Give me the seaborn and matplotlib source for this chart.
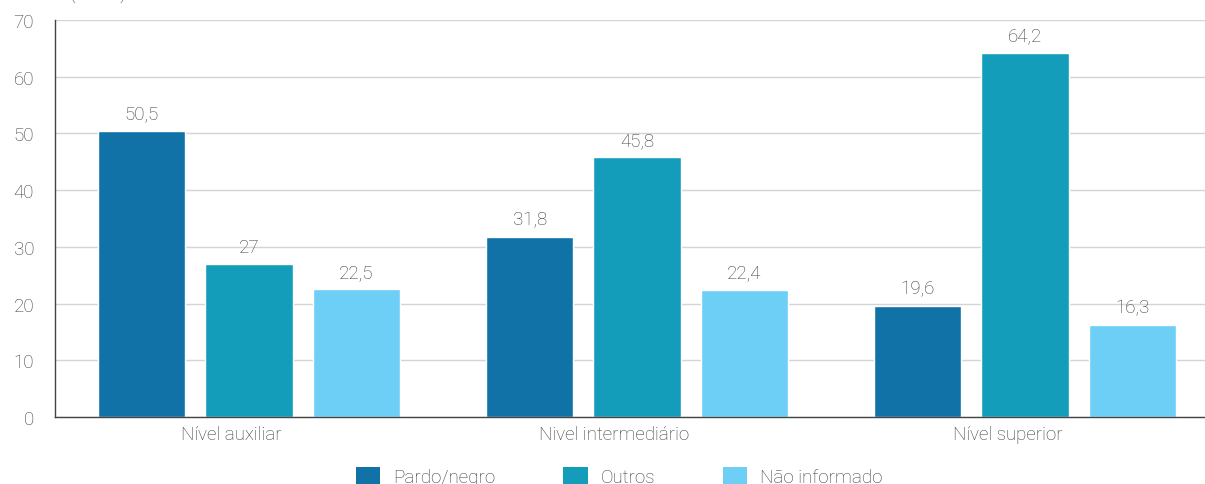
import matplotlib
matplotlib.use("Agg")
import matplotlib.pyplot as plt
import seaborn as sns
import pandas as pd
from matplotlib.patches import Patch
from matplotlib.ticker import FixedLocator, NullFormatter

# Data
niveis = ["Nível auxiliar", "Nivel intermediário", "Nível superior"]
grupos = ["Pardo/negro", "Outros", "Não informado"]
pardo_negro = [50.5, 31.8, 19.6]
outros = [27, 45.8, 64.2]
nao_informado = [22.5, 22.4, 16.3]
cores = ["#1172a8", "#149dbb", "#6dcff6"]

rows = []
for g, vals in zip(grupos, [pardo_negro, outros, nao_informado]):
    for n, v in zip(niveis, vals):
        rows.append({"nivel": n, "grupo": g, "valor": v})
df = pd.DataFrame(rows)

sns.set_style("white")
plt.rcParams["font.family"] = ["Roboto", "DejaVu Sans"]
plt.rcParams["font.weight"] = "light"
texto = "#3c3c3c"
fs = 13.5

fig = plt.figure(figsize=(12.05, 4.85), dpi=100)
ax = fig.add_axes([55 / 1205, 67 / 485, 1164 / 1205, 397 / 485])

sns.barplot(data=df, x="nivel", y="valor", hue="grupo", order=niveis,
            hue_order=grupos, palette=cores, width=0.83, gap=0.185,
            saturation=1, legend=False, ax=ax)

def fmt(v):
    return f"{v:g}".replace(".", ",")

for cont in ax.containers:
    labels = [fmt(b.get_height()) for b in cont]
    ax.bar_label(cont, labels=labels, padding=6, fontsize=fs, color=texto,
                 fontweight="light")

ax.set_xlim(-0.5, 2.5)
ax.set_ylim(0, 70)
ax.set_yticks(range(0, 71, 10))
ax.yaxis.grid(True, color="#d4d4d4", linewidth=1)
ax.set_axisbelow(True)
ax.set_xlabel("")
ax.set_ylabel("")

# Group separators as ticks, labels centred under each group
ax.xaxis.set_major_locator(FixedLocator([-0.5, 0.5, 1.5]))
ax.xaxis.set_major_formatter(NullFormatter())
ax.xaxis.set_minor_locator(FixedLocator([-0.045, 0.94, 1.955]))
ax.set_xticklabels(niveis, minor=True)
ax.tick_params(axis="x", which="major", length=9.5, width=1, color="#444444",
               direction="out")
ax.tick_params(axis="x", which="minor", length=0, pad=6, labelsize=fs,
               labelcolor=texto)
ax.tick_params(axis="y", length=11, width=1, color="#444444", direction="out",
               labelsize=fs, labelcolor=texto, pad=4)

for s in ["top", "right"]:
    ax.spines[s].set_visible(False)
for s in ["left", "bottom"]:
    ax.spines[s].set_color("#444444")
    ax.spines[s].set_linewidth(1)

handles = [Patch(facecolor=c, edgecolor="none") for c in cores]
fig.legend(handles, grupos, loc="upper center", ncol=3,
           bbox_to_anchor=(0.514, 30 / 485), frameon=False, fontsize=fs,
           labelcolor=texto, handlelength=1.3, handleheight=1.1,
           columnspacing=3.6, handletextpad=0.7, borderpad=0.2)

fig.text(70 / 1205, 1.0, "(em %)", fontsize=fs, color=texto, va="baseline")

fig.savefig("out.png", dpi=100)
